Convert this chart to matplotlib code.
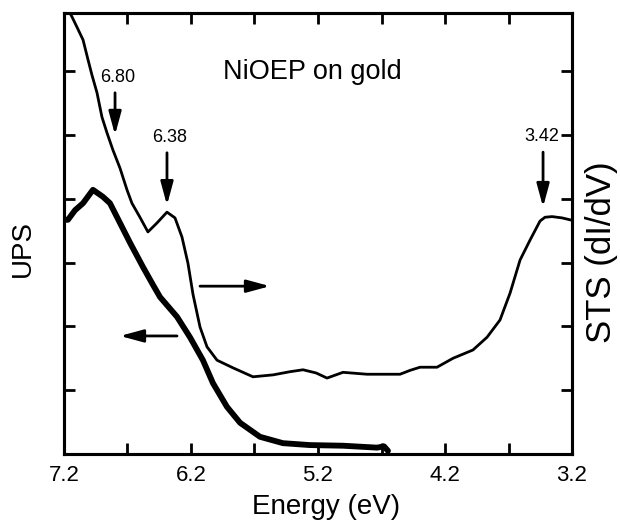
import numpy as np
import matplotlib
matplotlib.use('Agg')
import matplotlib.pyplot as plt

plt.rcParams['font.family'] = ['Liberation Sans', 'DejaVu Sans']

# STS (dI/dV) trace, energy in eV, arbitrary units
sts_energy = [7.153, 7.137, 7.098, 7.050, 7.011, 6.980, 6.940, 6.901, 6.861, 6.814,
              6.759, 6.704, 6.665, 6.602, 6.539, 6.468, 6.389, 6.326, 6.271, 6.224,
              6.184, 6.129, 6.074, 5.995, 5.869, 5.712, 5.554, 5.420, 5.318, 5.215,
              5.129, 5.003, 4.814, 4.554, 4.476, 4.397, 4.263, 4.137, 3.980, 3.869,
              3.767, 3.688, 3.609, 3.531, 3.452, 3.413, 3.357, 3.279, 3.216]
sts_signal = [6.91, 6.85, 6.69, 6.49, 6.18, 5.94, 5.66, 5.28, 5.03, 4.76,
              4.48, 4.14, 3.93, 3.71, 3.48, 3.62, 3.79, 3.70, 3.40, 2.99,
              2.50, 1.99, 1.68, 1.47, 1.35, 1.21, 1.24, 1.29, 1.32, 1.27,
              1.19, 1.28, 1.25, 1.25, 1.31, 1.36, 1.36, 1.50, 1.63, 1.83,
              2.10, 2.52, 3.04, 3.35, 3.65, 3.71, 3.72, 3.70, 3.67]

# UPS trace
ups_energy = [7.200, 7.169, 7.113, 7.050, 6.972, 6.893, 6.838, 6.759, 6.680, 6.578,
              6.499, 6.444, 6.310, 6.208, 6.106, 6.027, 5.917, 5.814, 5.657, 5.476,
              5.263, 5.003, 4.735, 4.680, 4.649]
ups_signal = [3.67, 3.67, 3.82, 3.93, 4.14, 4.03, 3.93, 3.62, 3.31, 2.93,
              2.65, 2.46, 2.15, 1.83, 1.47, 1.11, 0.74, 0.49, 0.27, 0.17,
              0.14, 0.13, 0.10, 0.12, 0.05]

# peak markers: label, energy, arrow top, arrow tip
peaks = [('6.80', 6.798, 5.66, 5.00),
         ('6.38', 6.389, 4.72, 3.90),
         ('3.42', 3.428, 4.73, 3.87)]

fig = plt.figure(figsize=(6.2, 5.23), dpi=100)
ax = fig.add_axes([0.1032, 0.1319, 0.8194, 0.8432])

ax.plot(ups_energy, ups_signal, color='black', lw=4.2, solid_capstyle='round',
        solid_joinstyle='round')

ax2 = ax.twinx()
ax2.plot(sts_energy, sts_signal, color='black', lw=2.0, solid_joinstyle='round')

for a in (ax, ax2):
    a.set_xlim(7.2, 3.2)
    a.set_ylim(0, 6.91)
    a.set_yticks([1, 2, 3, 4, 5, 6])
    a.set_yticklabels([])

ax.set_xticks([7.2, 6.2, 5.2, 4.2, 3.2])
ax.set_xticklabels(['7.2', '6.2', '5.2', '4.2', '3.2'])
ax.set_xticks(np.arange(3.7, 7.0, 1.0), minor=True)
ax.tick_params(axis='x', which='both', direction='in', top=True, length=8, width=2,
               labelsize=16, pad=8)
ax.tick_params(axis='y', direction='in', length=8, width=2)
ax2.tick_params(axis='y', direction='in', length=8, width=2)

for a in (ax, ax2):
    for s in a.spines.values():
        s.set_linewidth(2.2)

ax.set_xlabel('Energy (eV)', fontsize=20, ha='center', va='center')
ax.xaxis.set_label_coords(0.516, -0.12)
ax.set_ylabel('UPS', fontsize=20, ha='center', va='center')
ax.yaxis.set_label_coords(-0.081, 0.467)
ax2.set_ylabel('STS (dI/dV)', fontsize=25, ha='center', va='center', rotation=90)
ax2.yaxis.set_label_coords(1.059, 0.458)

ax2.text(5.247, 5.99, 'NiOEP on gold', fontsize=19.5, ha='center', va='center')

arrow = dict(arrowstyle='-|>,head_length=1.4,head_width=0.38', lw=2, color='black',
             shrinkA=0, shrinkB=0, mutation_scale=10)
for lab, e, y0, y1 in peaks:
    ax2.annotate('', xy=(e, y1), xytext=(e, y0), arrowprops=arrow)
    ax2.text(e - 0.02 if lab != '3.42' else e + 0.01, y0 + 0.24, lab, fontsize=13,
             ha='center', va='center')

# axis-pointer arrows
ax2.annotate('', xy=(5.578, 2.63), xytext=(6.129, 2.63), arrowprops=arrow)
ax2.annotate('', xy=(6.759, 1.85), xytext=(6.310, 1.85), arrowprops=arrow)

fig.savefig('out.png', dpi=100)
